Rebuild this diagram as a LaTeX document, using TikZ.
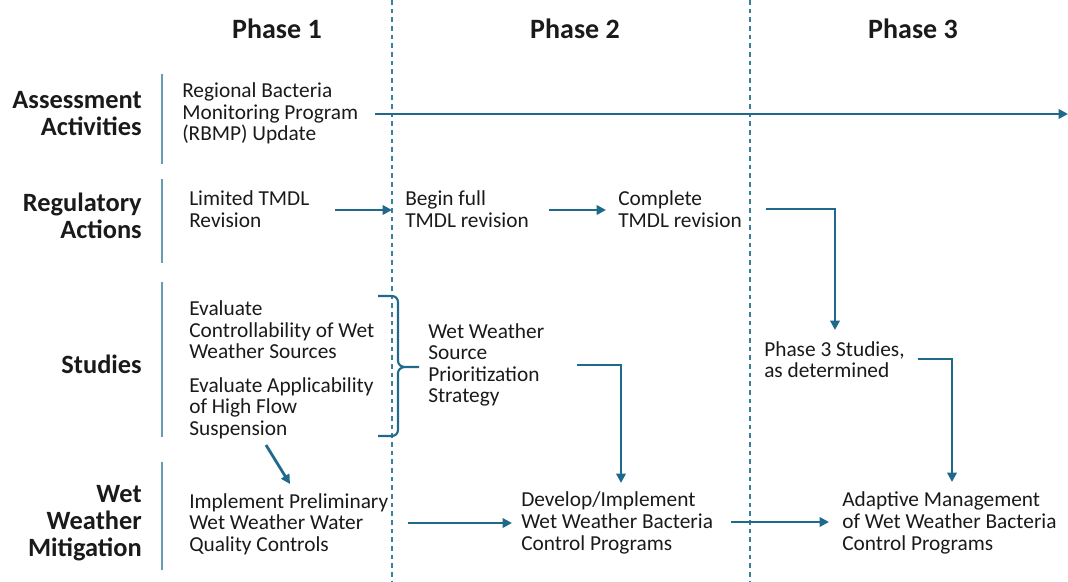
\documentclass[tikz,border=0pt]{standalone}
\usepackage{fontspec}
\setmainfont{Carlito}
\usetikzlibrary{arrows.meta,calc}
\definecolor{arrc}{HTML}{1F6A8A}
\definecolor{barc}{HTML}{6A9BB5}
\definecolor{dashc}{HTML}{3A7F9C}
\definecolor{txtc}{HTML}{1A1A1A}
\begin{document}
\begin{tikzpicture}[x=0.75pt,y=-0.75pt,
  body/.style={anchor=west,align=left,inner sep=0pt,text=txtc,font=\fontsize{16pt}{16.2pt}\selectfont},
  rowlab/.style={anchor=east,align=right,inner sep=0pt,text=txtc,font=\fontsize{19.8pt}{20.2pt}\selectfont\bfseries},
  phase/.style={anchor=center,inner sep=0pt,text=txtc,font=\fontsize{21pt}{22pt}\selectfont\bfseries},
  arr/.style={draw=arrc,line width=2.1pt,-{Triangle[length=7pt,width=7pt]}},
  bar/.style={draw=barc,line width=1.3pt},
  sep/.style={draw=dashc,line width=0.8pt,dash pattern=on 3.5pt off 3pt}]
\useasboundingbox (0,0) rectangle (1068,582);
% phase headers
\node[phase] (ph1) at (277,29) {Phase 1};
\node[phase] (ph2) at (575,29) {Phase 2};
\node[phase] (ph3) at (913,29) {Phase 3};
% dashed separators
\coordinate (s1t) at (392,0); \coordinate (s1b) at (392,582);
\coordinate (s2t) at (750,0); \coordinate (s2b) at (750,582);
\draw[sep] (s1t) -- (s1b);
\draw[sep] (s2t) -- (s2b);
% row labels
\node[rowlab] (r1) at (142,114) {Assessment\\Activities};
\node[rowlab] (r2) at (142,216) {Regulatory\\Actions};
\node[rowlab] (r3) at (142,364) {Studies};
\node[rowlab] (r4) at (142,523) {Wet\\Weather\\Mitigation};
% vertical bars
\coordinate (b1t) at (162,74);  \coordinate (b1b) at (162,164);
\coordinate (b2t) at (162,179); \coordinate (b2b) at (162,263);
\coordinate (b3t) at (162,282); \coordinate (b3b) at (162,437);
\coordinate (b4t) at (162,462); \coordinate (b4b) at (162,570);
\draw[bar] (b1t) -- (b1b);
\draw[bar] (b2t) -- (b2b);
\draw[bar] (b3t) -- (b3b);
\draw[bar] (b4t) -- (b4b);
% body texts
\node[body] (rbmp) at (182,113.5) {Regional Bacteria\\Monitoring Program\\(RBMP) Update};
\node[body] (lim) at (189,209) {Limited TMDL\\Revision};
\node[body] (beg) at (405,209) {Begin full\\TMDL revision};
\node[body] (cmp) at (618,209) {Complete\\TMDL revision};
\node[body] (ev1) at (189,330) {Evaluate\\Controllability of Wet\\Weather Sources};
\node[body] (ev2) at (189,408) {Evaluate Applicability\\of High Flow\\Suspension};
\node[body] (wws) at (428,365) {Wet Weather\\Source\\Prioritization\\Strategy};
\node[body] (p3s) at (764,359.5) {Phase 3 Studies,\\as determined};
\node[body] (imp) at (189,524) {Implement Preliminary\\Wet Weather Water\\Quality Controls};
\node[body] (dev) at (521,523) {Develop/Implement\\Wet Weather Bacteria\\Control Programs};
\node[body] (ada) at (842,523) {Adaptive Management\\of Wet Weather Bacteria\\Control Programs};
% brace
\coordinate (brt) at (419,367);
\draw[draw=arrc,line width=1.6pt,line join=round]
  (378,296) -- (392,296) to[out=0,in=90] (398,302) -- (398,361) to[out=-90,in=180] (405,367) -- (brt)
  (405,367) to[out=180,in=90] (398,373) -- (398,430) to[out=-90,in=0] (392,436) -- (378,436);
% connectors
\coordinate (rend) at (1068,114);
\coordinate (bege) at (392,210);
\coordinate (p3in) at (835,330);
\coordinate (adin) at (952,482);
\coordinate (devin) at (621,483);
\draw[arr] (375,114) -- (rend);
\draw[arr] (335,210) -- (bege);
\draw[arr] (549,210) -- (606,210);
\draw[arr] (766,209) -| (p3in);
\draw[arr] (918,359) -| (adin);
\draw[arr] (577,365) -| (devin);
\draw[arr] (266,445) -- (290,484);
\draw[arr] (408,523) -- (512,523);
\draw[arr] (731,522) -- (829,522);
\end{tikzpicture}
\end{document}
